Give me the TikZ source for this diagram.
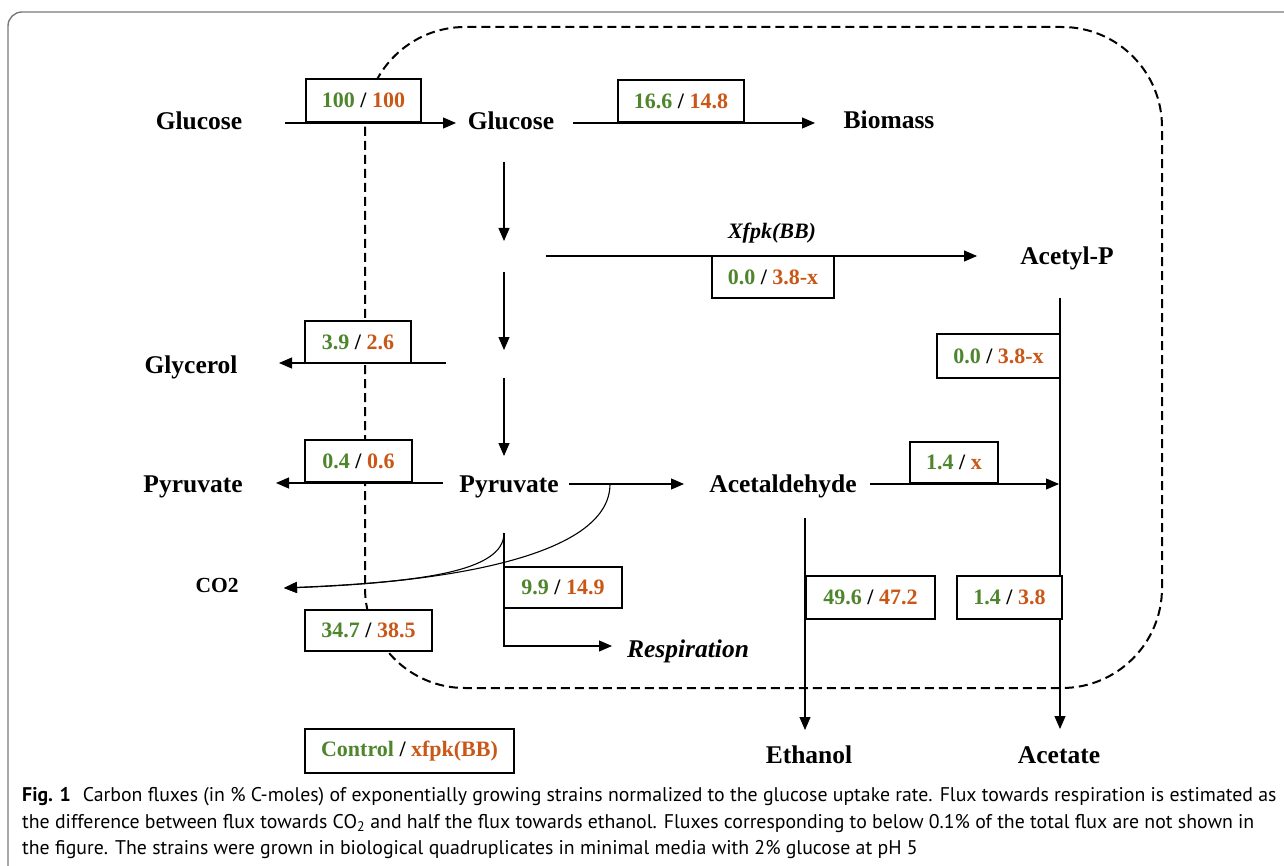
\documentclass[tikz,border=0pt]{standalone}
\usepackage{fontspec}
\setmainfont{Liberation Serif}
\newfontfamily\capfont{PT Sans}
\usetikzlibrary{arrows.meta}
\definecolor{grn}{RGB}{78,133,45}
\definecolor{org}{RGB}{201,88,24}
\newcommand\gv[2]{\textcolor{grn}{#1} / \textcolor{org}{#2}}
\begin{document}
\begin{tikzpicture}[x=1pt,y=-1pt,
  lbl/.style={font=\fontsize{25.5}{30}\selectfont\bfseries, anchor=base, inner sep=0},
  fbox/.style={draw, line width=2.2pt, fill=white, inner sep=0, font=\fontsize{22}{26}\selectfont\bfseries},
  flow/.style={line width=1.1pt, -{Triangle[length=13pt,width=11pt]}},
  plain/.style={line width=1.1pt},
  caption/.style={font=\capfont\fontsize{19.8}{23}\selectfont, anchor=base west, inner sep=0}
]
\useasboundingbox (0,0) rectangle (1284,866);
% outer frame
\draw[gray!95!black, line width=1.4pt, rounded corners=14pt] (8,900) -- (8,12) -- (1320,12);
% cell boundary
\draw[line width=2pt, dash pattern=on 9pt off 5pt, rounded corners=100pt] (365,27) rectangle (1162,688);

% coordinates
\coordinate (a1) at (285,123); \coordinate (a2) at (456,123);
\coordinate (b1) at (573,123); \coordinate (b2) at (815,123);
\coordinate (c1) at (504,162); \coordinate (c2) at (504,241);
\coordinate (d1) at (546,256); \coordinate (d2) at (977,256);
\coordinate (e1) at (504,272); \coordinate (e2) at (504,350);
\coordinate (f1) at (446,363); \coordinate (f2) at (279,363);
\coordinate (g1) at (504,378); \coordinate (g2) at (504,456);
\coordinate (h1) at (443,483); \coordinate (h2) at (276,483);
\coordinate (i1) at (569,484); \coordinate (i2) at (684,484);
\coordinate (j1) at (870,484); \coordinate (j2) at (1059,484);
\coordinate (k1) at (1060,298); \coordinate (k2) at (1060,729);
\coordinate (l1) at (805,518); \coordinate (l2) at (805,730);
\coordinate (m1) at (610,484); \coordinate (m2) at (504,533);
\coordinate (co) at (284,588);
\coordinate (n1) at (504,646); \coordinate (n2) at (612,646);

% connectors
\draw[flow] (a1) -- (a2);
\draw[flow] (b1) -- (b2);
\draw[flow] (c1) -- (c2);
\draw[flow] (d1) -- (d2);
\draw[flow] (e1) -- (e2);
\draw[flow] (f1) -- (f2);
\draw[flow] (g1) -- (g2);
\draw[flow] (h1) -- (h2);
\draw[flow] (i1) -- (i2);
\draw[flow] (j1) -- (j2);
\draw[flow] (k1) -- (k2);
\draw[flow] (l1) -- (l2);
\draw[flow] (m1) .. controls (610,560) and (430,583) .. (co);
\draw[flow] (m2) .. controls (504,572) and (420,582) .. (co);
\draw[flow] (m2) -- (n1) -- (n2);

% flux boxes
\node[fbox, minimum width=115pt, minimum height=43pt] (v1) at (363.5,100.5) {\gv{100}{100}};
\node[fbox, minimum width=126pt, minimum height=42pt] (v2) at (681,101) {\gv{16.6}{14.8}};
\node[fbox, minimum width=122pt, minimum height=42pt] (v3) at (773,277) {\gv{0.0}{3.8-x}};
\node[fbox, minimum width=106pt, minimum height=42pt] (v4) at (358,342) {\gv{3.9}{2.6}};
\node[fbox, minimum width=107pt, minimum height=42pt] (v5) at (358.5,461) {\gv{0.4}{0.6}};
\node[fbox, minimum width=123pt, minimum height=44pt] (v6) at (998.5,356) {\gv{0.0}{3.8-x}};
\node[fbox, minimum width=88pt, minimum height=41pt] (v7) at (954,462.5) {\gv{1.4}{x}};
\node[fbox, minimum width=118pt, minimum height=41pt] (v8) at (563,587.5) {\gv{9.9}{14.9}};
\node[fbox, minimum width=127pt, minimum height=41pt] (v9) at (368.5,630.5) {\gv{34.7}{38.5}};
\node[fbox, minimum width=129pt, minimum height=43pt] (v10) at (870.5,597.5) {\gv{49.6}{47.2}};
\node[fbox, minimum width=105pt, minimum height=43pt] (v11) at (1009.5,597.5) {\gv{1.4}{3.8}};
\node[fbox, minimum width=209pt, minimum height=44pt] (leg) at (409.5,751) {\gv{Control}{xfpk(BB)}};

% labels
\node[lbl] (glcout) at (199,129.5) {Glucose};
\node[lbl] (glcin) at (511,130) {Glucose};
\node[lbl] (bio) at (889,128.5) {Biomass};
\node[lbl, font=\fontsize{22}{26}\selectfont\bfseries\itshape] (xfpk) at (772,239) {Xfpk(BB)};
\node[lbl] (acp) at (1067,265) {Acetyl-P};
\node[lbl] (gly) at (191,373) {Glycerol};
\node[lbl] (pyrout) at (193,492.5) {Pyruvate};
\node[lbl] (pyrin) at (509,492.5) {Pyruvate};
\node[lbl] (acald) at (783,492) {Acetaldehyde};
\node[lbl, font=\fontsize{21.5}{26}\selectfont\bfseries] (co2) at (217,592) {CO2};
\node[lbl, font=\fontsize{25.5}{30}\selectfont\bfseries\itshape] (resp) at (688,657) {Respiration};
\node[lbl] (eth) at (809,763) {Ethanol};
\node[lbl] (ace) at (1059,763) {Acetate};

% caption
\node[caption] (cap1) at (22,801) {\textbf{Fig. 1}\hspace{0.6em}Carbon fluxes (in \% C-moles) of exponentially growing strains normalized to the glucose uptake rate. Flux towards respiration is estimated as};
\node[caption] (cap2) at (22,828) {the difference between flux towards CO\textsubscript{2} and half the flux towards ethanol. Fluxes corresponding to below 0.1\% of the total flux are not shown in};
\node[caption] (cap3) at (22,854) {the figure. The strains were grown in biological quadruplicates in minimal media with 2\% glucose at pH 5};
\end{tikzpicture}
\end{document}
